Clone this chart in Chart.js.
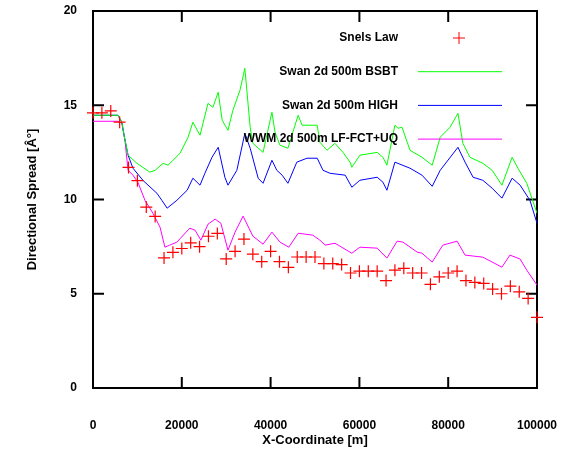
<!DOCTYPE html>
<html>
<head>
<meta charset="utf-8">
<script src="https://cdn.jsdelivr.net/npm/chart.js@4"></script>
<style>
  body { margin: 0; background: #fff; }
</style>
</head>
<body>
<canvas id="spreadChart" width="574" height="451"></canvas>
<script>
// axis ticks
const xTicks = [0, 20000, 40000, 60000, 80000, 100000];
const yTicks = [0, 5, 10, 15, 20];

// Snels Law (every 2 km)
const snelsX = [0, 2000, 4000, 6000, 8000, 10000, 12000, 14000, 16000, 18000,
  20000, 22000, 24000, 26000, 28000, 30000, 32000, 34000, 36000, 38000,
  40000, 42000, 44000, 46000, 48000, 50000, 52000, 54000, 56000, 58000,
  60000, 62000, 64000, 66000, 68000, 70000, 72000, 74000, 76000, 78000,
  80000, 82000, 84000, 86000, 88000, 90000, 92000, 94000, 96000, 98000, 100000];
const snelsY = [14.6, 14.6, 14.7, 14.1, 11.7, 11.0, 9.6, 9.1, 6.9, 7.2,
  7.4, 7.7, 7.5, 8.05, 8.2, 6.85, 7.25, 7.9, 7.1, 6.7,
  7.25, 6.7, 6.4, 6.95, 6.95, 6.95, 6.6, 6.6, 6.55, 6.1,
  6.2, 6.2, 6.2, 5.7, 6.25, 6.35, 6.1, 6.1, 5.5, 5.9,
  6.1, 6.2, 5.7, 5.6, 5.55, 5.25, 5.0, 5.4, 5.1, 4.75, 3.75];

// Swan 2d 500m BSBT
const bsbtX = [0, 5600, 6500, 7000, 7900, 9900, 12800, 14000, 15800, 16900,
  19600, 21400, 22500, 24100, 25900, 27000, 28200, 29100, 30400, 31500,
  33100, 34200, 35400, 36000, 38300, 40300, 41000, 42100, 43900, 46200,
  47100, 50500, 51100, 52700, 54500, 56300, 57900, 58300, 60100, 64000,
  65300, 66200, 68000, 68700, 69600, 71400, 74100, 76400, 78200, 80400,
  82200, 83300, 84900, 87800, 89900, 92100, 94400, 95700, 97700, 100000];
const bsbtY = [14.47, 14.47, 14.1, 13.4, 12.35, 11.92, 11.45, 11.55, 11.92, 11.82,
  12.45, 13.3, 14.1, 13.41, 15.1, 14.89, 15.69, 14.2, 13.67, 14.73,
  15.79, 16.96, 13.83, 12.98, 12.5, 14.63, 13.57, 12.88, 12.72, 14.47,
  13.94, 13.94, 13.04, 12.61, 12.98, 12.5, 11.98, 11.71, 12.35, 12.5,
  12.24, 11.82, 13.94, 13.78, 13.83, 12.61, 12.24, 11.82, 13.3, 13.83,
  14.57, 12.98, 12.24, 11.92, 11.55, 10.76, 12.24, 11.66, 10.86, 9.27];

// Swan 2d 500m HIGH
const highX = [0, 5600, 6500, 7000, 7900, 9000, 11300, 14400, 15500, 16700,
  18900, 21200, 22500, 24100, 25200, 26800, 28200, 29700, 30400, 32400,
  34200, 35400, 37200, 38300, 40300, 41400, 42600, 43900, 45900, 48200,
  50500, 51800, 53400, 56800, 58300, 60100, 64000, 65300, 66200, 68000,
  71400, 74100, 76400, 78200, 82200, 83800, 85600, 87800, 89900, 92100,
  94400, 96200, 98400, 100000];
const highY = [14.47, 14.47, 14.1, 13.4, 12.35, 11.66, 11.0, 10.33, 9.96, 9.54,
  9.96, 10.49, 11.13, 10.76, 11.39, 12.24, 12.77, 11.18, 10.76, 11.55,
  13.51, 12.72, 11.13, 10.86, 12.08, 11.55, 11.29, 10.86, 11.98, 12.19,
  12.19, 11.55, 11.39, 11.29, 10.65, 11.02, 11.18, 10.92, 10.49, 11.98,
  11.66, 11.29, 10.7, 11.55, 12.77, 11.98, 11.18, 11.02, 10.6, 10.07,
  11.13, 10.76, 9.96, 8.74];

// WWM 2d 500m LF-FCT+UQ
const wwmX = [0, 5600, 6500, 7200, 7900, 9000, 10100, 11700, 13500, 15100,
  16200, 17300, 18900, 21800, 23000, 24300, 25900, 27500, 28800, 30400,
  32000, 33800, 36000, 38300, 40300, 42100, 44100, 46200, 49500, 51100,
  52300, 54500, 58300, 60100, 64000, 66200, 68500, 69800, 73000, 74100,
  76400, 78800, 82000, 83800, 87800, 92100, 93900, 96200, 97700, 100000];
const wwmY = [14.15, 14.15, 14.04, 13.14, 11.55, 11.29, 10.92, 9.96, 9.27, 8.53,
  7.47, 7.58, 7.74, 8.48, 8.37, 7.84, 8.69, 8.96, 8.74, 7.31,
  8.27, 9.12, 8.06, 7.63, 8.27, 7.74, 7.47, 8.21, 8.11, 7.84,
  7.58, 7.68, 7.15, 7.47, 7.42, 6.89, 7.79, 7.74, 7.21, 7.15,
  6.68, 7.58, 7.79, 7.05, 6.94, 6.41, 7.05, 6.84, 6.25, 5.46];

const seriesNames = ['Snels Law', 'Swan 2d 500m BSBT', 'Swan 2d 500m HIGH', 'WWM 2d 500m LF-FCT+UQ'];
const seriesColors = ['#ff0000', '#00ff00', '#0000ff', '#ff00ff'];

const toPoints = (xs, ys) => xs.map((x, i) => ({ x: x, y: ys[i] }));
const boldFont = { family: 'Liberation Sans, Arial, sans-serif', size: 12, weight: 'bold' };
const titleFont = { family: 'Liberation Sans, Arial, sans-serif', size: 13, weight: 'bold' };

// box frame with inward ticks, plus the legend in the upper right
const framePlugin = {
  id: 'frame',
  beforeDatasetsDraw(chart) {
    const { ctx, chartArea: a, scales: { x, y } } = chart;
    const tl = 11;
    ctx.save();
    ctx.strokeStyle = '#000';
    ctx.lineWidth = 2;
    ctx.strokeRect(a.left, a.top, a.right - a.left, a.bottom - a.top);
    ctx.beginPath();
    yTicks.forEach(v => {
      const py = y.getPixelForValue(v);
      ctx.moveTo(a.left, py); ctx.lineTo(a.left + tl, py);
      ctx.moveTo(a.right, py); ctx.lineTo(a.right - tl, py);
    });
    xTicks.forEach(v => {
      const px = x.getPixelForValue(v);
      ctx.moveTo(px, a.bottom); ctx.lineTo(px, a.bottom - tl);
      ctx.moveTo(px, a.top); ctx.lineTo(px, a.top + tl);
    });
    ctx.stroke();
    ctx.restore();
  },
  afterDatasetsDraw(chart) {
    const { ctx } = chart;
    ctx.save();
    ctx.font = 'bold 12px "Liberation Sans", Arial, sans-serif';
    ctx.textAlign = 'right';
    ctx.textBaseline = 'middle';
    seriesNames.forEach((name, i) => {
      const ly = 38 + i * 33.7;
      ctx.fillStyle = '#000';
      ctx.fillText(name, 398, ly);
      ctx.strokeStyle = seriesColors[i];
      ctx.lineWidth = 1;
      ctx.beginPath();
      if (i === 0) {
        ctx.moveTo(453, ly); ctx.lineTo(465, ly);
        ctx.moveTo(459, ly - 6); ctx.lineTo(459, ly + 6);
      } else {
        ctx.moveTo(418, ly); ctx.lineTo(502, ly);
      }
      ctx.stroke();
    });
    ctx.restore();
  }
};

const lineSet = (label, xs, ys, color) => ({
  label: label,
  data: toPoints(xs, ys),
  showLine: true,
  borderColor: color,
  borderWidth: 1,
  pointRadius: 0,
  tension: 0
});

new Chart(document.getElementById('spreadChart').getContext('2d'), {
  type: 'scatter',
  data: {
    datasets: [
      {
        label: seriesNames[0],
        data: toPoints(snelsX, snelsY),
        pointStyle: 'cross',
        pointRadius: 6,
        borderColor: seriesColors[0],
        backgroundColor: seriesColors[0],
        borderWidth: 1.2,
        clip: false
      },
      lineSet(seriesNames[1], bsbtX, bsbtY, seriesColors[1]),
      lineSet(seriesNames[2], highX, highY, seriesColors[2]),
      lineSet(seriesNames[3], wwmX, wwmY, seriesColors[3])
    ]
  },
  options: {
    responsive: false,
    animation: false,
    layout: { padding: { top: 11, right: 37, left: 0, bottom: 0 } },
    plugins: { legend: { display: false }, tooltip: { enabled: false } },
    scales: {
      x: {
        type: 'linear',
        min: 0,
        max: 100000,
        afterBuildTicks: s => { s.ticks = xTicks.map(v => ({ value: v })); },
        afterFit: s => { s.height = 63; s.paddingLeft = 0; s.paddingRight = 0; },
        grid: { display: false, drawTicks: false },
        border: { display: false },
        ticks: { color: '#000', font: boldFont, padding: 30, maxRotation: 0, callback: v => String(v) },
        title: { display: true, text: 'X-Coordinate [m]', color: '#000', font: titleFont, padding: { top: 0, bottom: 3 } }
      },
      y: {
        type: 'linear',
        min: 0,
        max: 20,
        afterBuildTicks: s => { s.ticks = yTicks.map(v => ({ value: v })); },
        afterFit: s => { s.width = 93; s.paddingTop = 0; s.paddingBottom = 0; },
        grid: { display: false, drawTicks: false },
        border: { display: false },
        ticks: { color: '#000', font: boldFont, padding: 16, callback: v => String(v) },
        title: { display: true, text: 'Directional Spread [Â°]', color: '#000', font: titleFont, padding: { top: 25, bottom: 0 } }
      }
    }
  },
  plugins: [framePlugin]
});
</script>
</body>
</html>
